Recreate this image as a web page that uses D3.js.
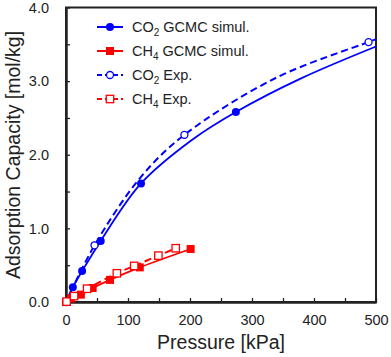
<!DOCTYPE html>
<html><head><meta charset="utf-8">
<script src="https://cdn.jsdelivr.net/npm/d3@7"></script>
<style>body{margin:0;background:#fff}svg{display:block;font-family:Arial,"Liberation Sans",sans-serif}</style>
</head><body><svg id="c" width="391" height="357"></svg>
<script>
// ---- data ----
const co2SimP = [0, 11, 26, 56, 121, 274];
const co2SimQ = [0, 0.20, 0.42, 0.83, 1.61, 2.58];
// fitted curve as traced in the reference
const co2SimFitP = [0, 11, 26, 56, 121, 203, 274, 380, 500];
const co2SimFitQ = [0, 0.20, 0.42, 0.83, 1.61, 2.20, 2.58, 3.04, 3.47];
const co2ExpP = [0, 46, 191, 488];
const co2ExpQ = [0, 0.77, 2.27, 3.53];
const co2ExpFitP = [0, 46, 120, 191, 340, 488, 500];
const co2ExpFitQ = [0, 0.77, 1.69, 2.27, 3.05, 3.53, 3.57];
const ch4SimP = [0, 8, 24, 43, 71, 119, 201];
const ch4SimQ = [0, 0.05, 0.10, 0.19, 0.30, 0.47, 0.72];
const ch4ExpP = [1, 13, 34, 82, 110, 149, 177];
const ch4ExpQ = [0.005, 0.08, 0.18, 0.39, 0.49, 0.63, 0.73];
const xTicks = [0, 100, 200, 300, 400, 500];
const xMinor = [50, 150, 250, 350, 450];
const yTicks = [0, 1, 2, 3, 4];
const yMinor = [0.5, 1.5, 2.5, 3.5];
const legendLabels = [["CO", "2", " GCMC simul."], ["CH", "4", " GCMC simul."], ["CO", "2", " Exp."], ["CH", "4", " Exp."]];

const BLUE = "#0000ff", RED = "#ff0000", AX = "#222";
const svg = d3.select("#c");
const L = 66, R = 376, T = 7.5, B = 302;
const x = d3.scaleLinear().domain([0, 500]).range([L, R]);
const y = d3.scaleLinear().domain([0, 4]).range([B, T]);

const zip = (a, b) => a.map((v, i) => [v, b[i]]);
const line = d3.line().x(d => x(d[0])).y(d => y(d[1])).curve(d3.curveCatmullRom.alpha(0.5));

// frame
svg.append("rect").attr("x", L).attr("y", T).attr("width", R - L).attr("height", B - T)
  .attr("fill", "none").attr("stroke", AX).attr("stroke-width", 2);

// axes
const xa = svg.append("g").attr("transform", `translate(0,${B})`)
  .call(d3.axisBottom(x).tickValues(xTicks).tickSizeInner(-4).tickSizeOuter(0).tickPadding(13).tickFormat(d3.format("d")));
const xm = svg.append("g").attr("transform", `translate(0,${B})`)
  .call(d3.axisBottom(x).tickValues(xMinor).tickSizeInner(-4).tickSizeOuter(0).tickFormat(""));
const ya = svg.append("g").attr("transform", `translate(${L},0)`)
  .call(d3.axisLeft(y).tickValues(yTicks).tickSizeInner(-4).tickSizeOuter(0).tickPadding(17).tickFormat(d3.format(".1f")));
const ym = svg.append("g").attr("transform", `translate(${L},0)`)
  .call(d3.axisLeft(y).tickValues(yMinor).tickSizeInner(-4).tickSizeOuter(0).tickFormat(""));
[xa, xm, ya, ym].forEach(g => {
  g.select(".domain").attr("stroke", AX).attr("stroke-width", 2);
  g.selectAll(".tick line").attr("stroke", AX).attr("stroke-width", 1.3);
  g.selectAll("text").attr("fill", AX).style("font-size", "14.5px").style("font-family", "Arial, 'Liberation Sans', sans-serif");
});

// axis titles
svg.append("text").attr("x", (L + R) / 2).attr("y", 349).attr("text-anchor", "middle")
  .attr("fill", AX).style("font-size", "19.5px").text("Pressure [kPa]");
svg.append("text").attr("transform", `translate(19.5,155) rotate(-90)`).attr("text-anchor", "middle")
  .attr("fill", AX).style("font-size", "19.5px").text("Adsorption Capacity [mol/kg]");

// lines
const plot = svg.append("g");
plot.append("path").attr("d", line(zip(co2ExpFitP, co2ExpFitQ))).attr("fill", "none").attr("stroke", BLUE).attr("stroke-width", 2).attr("stroke-dasharray", "7,4");
plot.append("path").attr("d", line(zip(co2SimFitP, co2SimFitQ))).attr("fill", "none").attr("stroke", BLUE).attr("stroke-width", 1.8);
plot.append("path").attr("d", line(zip(ch4ExpP, ch4ExpQ))).attr("fill", "none").attr("stroke", RED).attr("stroke-width", 2).attr("stroke-dasharray", "7,4");
plot.append("path").attr("d", line(zip(ch4SimP, ch4SimQ))).attr("fill", "none").attr("stroke", RED).attr("stroke-width", 1.8);

// markers
plot.selectAll(".ce").data(zip(co2ExpP, co2ExpQ)).join("circle").attr("cx", d => x(d[0])).attr("cy", d => y(d[1])).attr("r", 3.5).attr("fill", "#fff").attr("stroke", BLUE).attr("stroke-width", 1.3);
plot.selectAll(".cs").data(zip(co2SimP, co2SimQ)).join("circle").attr("cx", d => x(d[0])).attr("cy", d => y(d[1])).attr("r", 4).attr("fill", BLUE);
plot.selectAll(".ms").data(zip(ch4SimP, ch4SimQ)).join("rect").attr("x", d => x(d[0]) - 4).attr("y", d => y(d[1]) - 4).attr("width", 8).attr("height", 8).attr("fill", RED);
plot.selectAll(".me").data(zip(ch4ExpP, ch4ExpQ)).join("rect").attr("x", d => x(d[0]) - 3.7).attr("y", d => y(d[1]) - 3.7).attr("width", 7.4).attr("height", 7.4).attr("fill", "#fff").attr("stroke", RED).attr("stroke-width", 1.3);

// legend
const rows = [27, 51, 75, 99];
const styles = [
  {c: BLUE, dash: null, m: "circle", fill: BLUE},
  {c: RED, dash: null, m: "square", fill: RED},
  {c: BLUE, dash: "5,3", m: "circle", fill: "#fff"},
  {c: RED, dash: "5,3", m: "square", fill: "#fff"}
];
const lg = svg.append("g");
legendLabels.forEach((lab, i) => {
  const s = styles[i], yy = rows[i];
  lg.append("line").attr("x1", 97).attr("x2", 123).attr("y1", yy).attr("y2", yy).attr("stroke", s.c).attr("stroke-width", 2).attr("stroke-dasharray", s.dash);
  if (s.m === "circle") {
    lg.append("circle").attr("cx", 110).attr("cy", yy).attr("r", s.fill === "#fff" ? 3.5 : 4).attr("fill", s.fill).attr("stroke", s.c).attr("stroke-width", s.fill === "#fff" ? 1.3 : 0);
  } else {
    const h = s.fill === "#fff" ? 3.7 : 4;
    lg.append("rect").attr("x", 110 - h).attr("y", yy - h).attr("width", 2 * h).attr("height", 2 * h).attr("fill", s.fill).attr("stroke", s.c).attr("stroke-width", s.fill === "#fff" ? 1.3 : 0);
  }
  const t = lg.append("text").attr("x", 132).attr("y", yy + 5.2).attr("fill", AX).style("font-size", "14.5px");
  t.append("tspan").text(lab[0]);
  t.append("tspan").attr("dy", 3.5).style("font-size", "10px").text(lab[1]);
  t.append("tspan").attr("dy", -3.5).text(lab[2]);
});
</script></body></html>
